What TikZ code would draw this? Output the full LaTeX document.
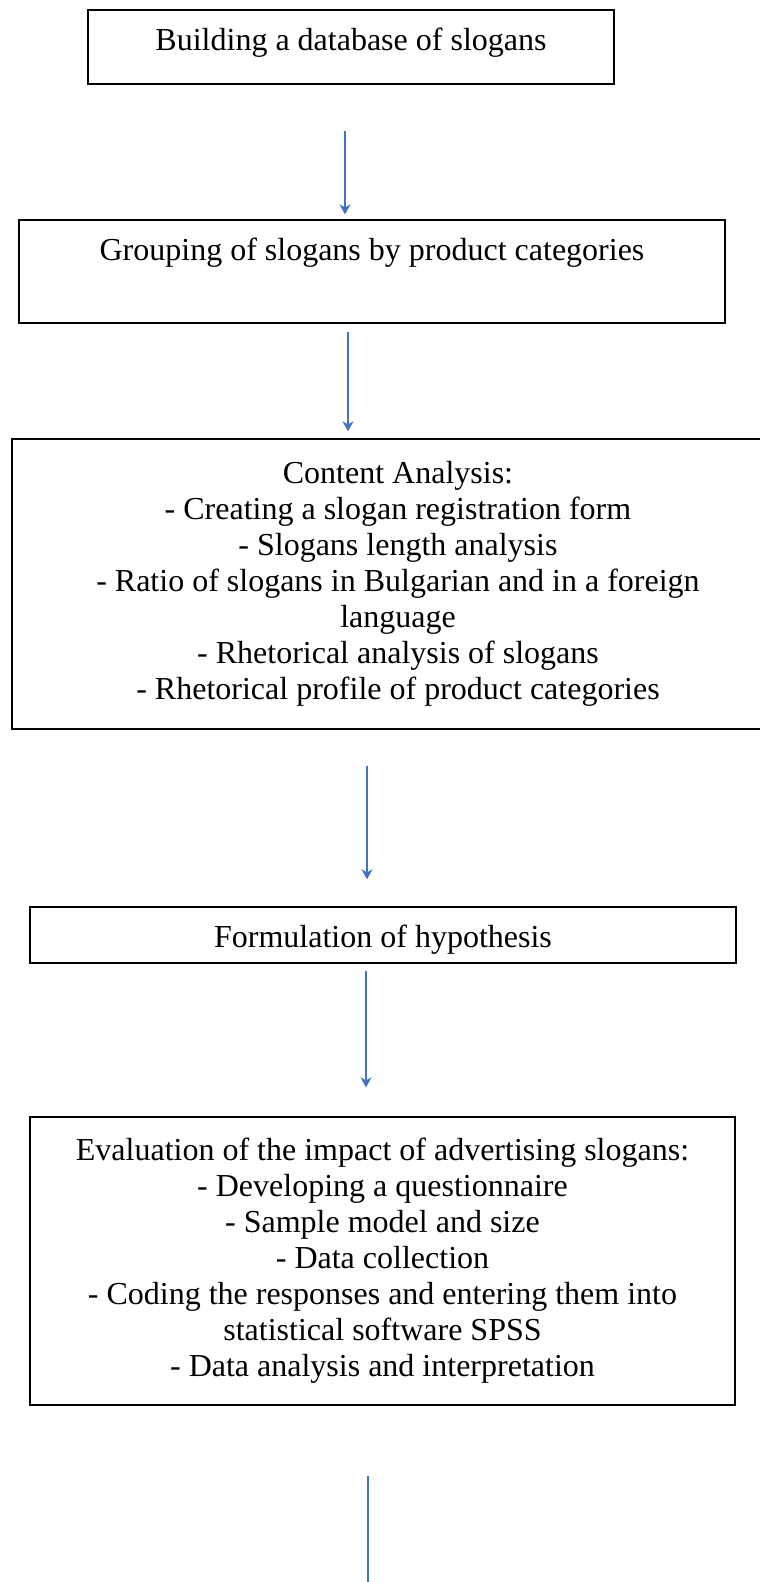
\documentclass[tikz,border=0pt]{standalone}
\usepackage{fontspec}
\setmainfont{Liberation Serif}
\usetikzlibrary{arrows.meta}
\definecolor{flowblue}{RGB}{68,114,196}
\begin{document}
\begin{tikzpicture}[x=1pt, y=-1pt]
\tikzstyle{every node} = [font=\fontsize{32}{36}\selectfont]
\tikzstyle{box} = [draw=black, line width=1.3pt, rectangle, inner sep=0pt, align=center]
\tikzstyle{flow} = [draw=flowblue, line width=1.6pt, -{Stealth[length=10pt, width=11pt, inset=3pt]}]
\useasboundingbox[fill=white] (0,0) rectangle (760,1582);
\clip (0,0) rectangle (760,1582);
\node[box, anchor=base, minimum width=526pt, text height=40pt, text depth=34pt] (b1) at (351, 50) {Building a database of slogans};
\node[box, anchor=base, minimum width=706pt, text height=40pt, text depth=63pt] (b2) at (372, 260) {Grouping of slogans by product categories};
\node[box, minimum width=772pt, minimum height=290pt] (b3) at (398, 584) {Content Analysis:\\- Creating a slogan registration form\\- Slogans length analysis\\- Ratio of slogans in Bulgarian and in a foreign\\language\\- Rhetorical analysis of slogans\\- Rhetorical profile of product categories};
\node[box, anchor=base, minimum width=706pt, text height=40pt, text depth=16pt] (b4) at (383, 947) {Formulation of hypothesis};
\node[box, minimum width=705pt, minimum height=288pt] (b5) at (382.5, 1261) {Evaluation of the impact of advertising slogans:\\- Developing a questionnaire\\- Sample model and size\\- Data collection\\- Coding the responses and entering them into\\statistical software SPSS\\- Data analysis and interpretation};
\coordinate (tail) at (368, 1582);
\foreach \from/\to/\sx/\sy/\ex/\ey in {b1/b2/-6/-46/-27/5, b2/b3/-24/-8/-50/7, b3/b4/-31/-36/-16/27, b4/b5/-17/-7/-16.5/29}
\draw [flow] ([xshift=\sx, yshift=\sy]\from.south) -- ([xshift=\ex, yshift=\ey]\to.north);
\draw [flow, -] ([xshift=-14.5, yshift=-70]b5.south) -- (tail);
\end{tikzpicture}
\end{document}
